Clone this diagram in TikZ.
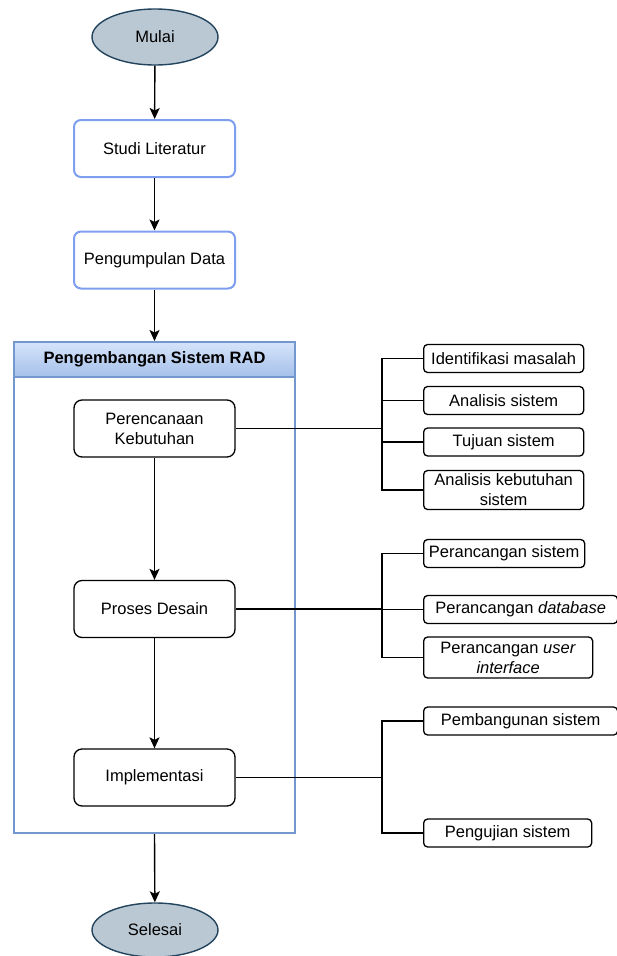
\documentclass[tikz,border=0pt]{standalone}
\usepackage{fontspec}
\setmainfont{Liberation Sans}
\usetikzlibrary{shapes.geometric,arrows.meta}

\definecolor{termfill}{HTML}{BAC8D3}
\definecolor{termline}{HTML}{23445D}
\definecolor{stepline}{HTML}{7E9EF0}
\definecolor{laneline}{HTML}{7398CF}
\definecolor{lanetop}{HTML}{D6E4FA}
\definecolor{lanebot}{HTML}{A4C0EA}

\tikzset{
    terminal/.style={ellipse, draw=termline, fill=termfill, line width=1.4pt,
        minimum width=126pt, minimum height=56pt, inner sep=0pt},
    bluebox/.style={rectangle, rounded corners=7pt, draw=stepline, line width=2pt,
        minimum width=161pt, minimum height=57pt, align=center},
    phase/.style={rectangle, rounded corners=8pt, draw, line width=1.3pt,
        minimum width=161pt, minimum height=57pt, align=center},
    task/.style={rectangle, rounded corners=4pt, draw, line width=1.3pt,
        minimum width=160pt, minimum height=28pt, anchor=west, align=center,
        inner sep=2pt},
    flow/.style={-{Stealth[length=11pt,width=10pt,inset=2.5pt]}, line width=1.4pt},
    branch/.style={line width=1.3pt},
}

\begin{document}
\begin{tikzpicture}[x=1pt, y=-1pt, font=\fontsize{16.5}{20}\selectfont]
        \useasboundingbox (0,0) rectangle (616,956);

        % Lane for the RAD phases
        \node[rectangle, draw=laneline, line width=2pt, minimum width=281pt,
            minimum height=491pt, inner sep=0pt] (rad) at (154.5,587.5) {};
        \node[rectangle, draw=laneline, line width=2pt, top color=lanetop,
            bottom color=lanebot, minimum width=281pt, minimum height=35pt,
            anchor=north, font=\fontsize{16.5}{20}\selectfont\bfseries] (radhead)
            at (rad.north) {Pengembangan Sistem RAD};

        % Main flow
        \node[terminal] (mulai) at (155,37) {Mulai};
        \node[bluebox] (studi) at (154.5,148.5) {Studi Literatur};
        \node[bluebox] (data) at (154.5,260) {Pengumpulan Data};
        \node[phase] (plan) at (154.5,428.5) {Perencanaan\\Kebutuhan};
        \node[phase] (desain) at (154.5,609) {Proses Desain};
        \node[phase] (impl) at (154.5,777.5) {Implementasi};
        \node[terminal, minimum height=54pt] (selesai) at (155,930) {Selesai};

        \draw[flow] (mulai) -- (studi);
        \draw[flow] (studi) -- (data);
        \draw[flow] (data) -- (rad.north);
        \draw[flow] (plan) -- (desain);
        \draw[flow] (desain) -- (impl);
        \draw[flow] (rad.south) -- (selesai);

        % Tasks of Perencanaan Kebutuhan
        \node[task] (ident) at (423,358.5) {Identifikasi masalah};
        \node[task] (ansis) at (423,400.5) {Analisis sistem};
        \node[task] (tujuan) at (423,442) {Tujuan sistem};
        \node[task, minimum height=39pt, inner sep=1pt] (anbut) at (423,490)
            {Analisis kebutuhan\\sistem};

        % Tasks of Proses Desain
        \node[task, minimum width=161pt] (pransis) at (423,553.5) {Perancangan sistem};
        \node[task, minimum width=194pt] (prandb) at (423,609.5) {Perancangan \textit{database}};
        \node[task, minimum width=169pt, minimum height=41pt, inner sep=1pt] (pranui)
            at (423,657.5) {Perancangan \textit{user}\\\textit{interface}};

        % Tasks of Implementasi
        \node[task, minimum width=194pt] (bangun) at (423,721) {Pembangunan sistem};
        \node[task, minimum width=168pt] (uji) at (423,833) {Pengujian sistem};

        % Branch lines
        \coordinate (t1) at (382,428.5);
        \coordinate (t2) at (382,609);
        \coordinate (t3) at (382,777.5);

        \draw[branch] (plan.east) -- (t1);
        \foreach \c in {ident,ansis,tujuan,anbut} {
                \draw[branch] (t1) |- (\c.west);
            }
        \draw[branch] (desain.east) -- (t2);
        \foreach \c in {pransis,prandb,pranui} {
                \draw[branch] (t2) |- (\c.west);
            }
        \draw[branch] (impl.east) -- (t3);
        \foreach \c in {bangun,uji} {
                \draw[branch] (t3) |- (\c.west);
            }
    \end{tikzpicture}
\end{document}
